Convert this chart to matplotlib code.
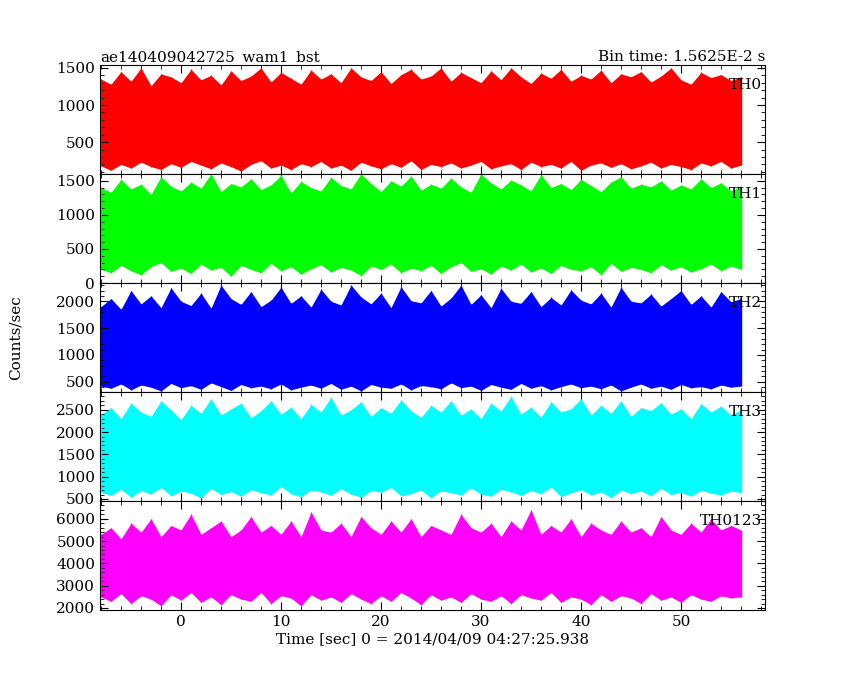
import matplotlib
matplotlib.use("Agg")
import matplotlib.pyplot as plt
from matplotlib.ticker import AutoMinorLocator
import numpy as np

plt.rcParams["font.family"] = ["DejaVu Serif"]
plt.rcParams["font.size"] = 11

# sample times (sec), one per second
time_s = list(range(-8, 57))

# per-second min / max envelopes of the light curves (counts/sec)
th0_lo = [180, 120, 200, 150, 230, 170, 130, 210, 160, 240, 190, 140, 220, 170, 110, 200, 250, 150, 190, 130,
          210, 170, 240, 150, 190, 120, 230, 180, 140, 210, 160, 250, 130, 200, 170, 220, 150, 190, 240, 140,
          180, 210, 130, 230, 170, 200, 150, 240, 120, 190, 220, 160, 210, 140, 180, 230, 150, 200, 170, 130,
          220, 180, 240, 150, 190]
th0_hi = [1350, 1280, 1450, 1320, 1500, 1260, 1420, 1380, 1300, 1480, 1340, 1400, 1270, 1460, 1330, 1390, 1500, 1310, 1440, 1360,
          1280, 1470, 1350, 1420, 1300, 1500, 1380, 1330, 1450, 1290, 1410, 1480, 1350, 1390, 1500, 1320, 1440, 1370, 1300, 1460,
          1340, 1500, 1380, 1290, 1430, 1360, 1480, 1320, 1400, 1350, 1470, 1300, 1420, 1380, 1450, 1310, 1390, 1500, 1340, 1280,
          1440, 1370, 1410, 1330, 1380]
th1_lo = [200, 150, 260, 180, 120, 240, 300, 170, 220, 140, 280, 190, 230, 100, 260, 200, 150, 290, 180, 240,
          130, 210, 270, 160, 230, 190, 110, 250, 200, 280, 150, 220, 180, 260, 140, 240, 300, 170, 210, 130,
          250, 190, 280, 160, 220, 140, 260, 200, 180, 240, 120, 290, 170, 230, 200, 150, 270, 190, 240, 160,
          210, 280, 180, 250, 200]
th1_hi = [1400, 1330, 1520, 1380, 1450, 1300, 1560, 1420, 1350, 1480, 1390, 1600, 1340, 1460, 1410, 1530, 1370, 1440, 1580, 1320,
          1490, 1400, 1350, 1550, 1430, 1380, 1600, 1460, 1340, 1500, 1420, 1570, 1360, 1450, 1390, 1540, 1410, 1330, 1600, 1470,
          1380, 1510, 1440, 1350, 1590, 1400, 1460, 1370, 1520, 1430, 1340, 1480, 1560, 1390, 1450, 1410, 1500, 1360, 1440, 1380,
          1530, 1400, 1470, 1350, 1420]
th2_lo = [420, 380, 460, 350, 440, 400, 330, 470, 390, 430, 360, 480, 410, 340, 450, 390, 420, 370, 460, 350,
          400, 440, 380, 470, 360, 420, 330, 450, 400, 380, 460, 350, 430, 410, 370, 480, 390, 420, 340, 450,
          400, 360, 470, 380, 430, 350, 410, 460, 390, 420, 370, 440, 330, 400, 460, 380, 420, 360, 450, 390,
          410, 370, 440, 400, 420]
th2_hi = [1900, 2050, 1850, 2200, 1950, 2100, 1880, 2250, 2000, 1920, 2150, 1870, 2300, 2050, 1940, 2180, 1900, 2020, 2260, 1960,
          2100, 1890, 2220, 2000, 1930, 2300, 2080, 1950, 2150, 1880, 2270, 2010, 1970, 2200, 1910, 2060, 2300, 1940, 2120, 1880,
          2240, 2000, 1960, 2180, 1900, 2070, 1930, 2210, 2020, 1950, 2150, 1890, 2260, 2000, 1970, 2130, 1910, 2050, 2200, 1940,
          2100, 1890, 2180, 1990, 2050]
th3_lo = [650, 580, 720, 540, 690, 610, 760, 570, 680, 630, 520, 740, 600, 670, 560, 710, 640, 590, 780, 620,
          550, 700, 660, 580, 730, 610, 540, 690, 650, 760, 570, 620, 700, 530, 680, 640, 590, 750, 610, 560,
          720, 660, 580, 690, 620, 770, 550, 640, 710, 590, 660, 530, 700, 620, 680, 570, 740, 600, 650, 560,
          700, 630, 590, 680, 640]
th3_hi = [2400, 2550, 2300, 2650, 2450, 2350, 2700, 2500, 2280, 2600, 2420, 2750, 2380, 2520, 2650, 2320, 2480, 2700, 2400, 2560,
          2300, 2620, 2450, 2780, 2380, 2500, 2680, 2350, 2550, 2420, 2720, 2480, 2330, 2600, 2450, 2700, 2380, 2520, 2300, 2650,
          2470, 2800, 2400, 2560, 2330, 2680, 2450, 2520, 2750, 2380, 2600, 2420, 2700, 2350, 2550, 2480, 2660, 2400, 2520, 2300,
          2640, 2450, 2580, 2380, 2500]
th4_lo = [2500, 2300, 2650, 2200, 2550, 2400, 2100, 2600, 2350, 2700, 2250, 2500, 2150, 2600, 2400, 2300, 2700, 2200, 2550, 2450,
          2100, 2600, 2350, 2500, 2250, 2650, 2400, 2200, 2550, 2300, 2700, 2450, 2150, 2600, 2350, 2500, 2250, 2650, 2400, 2300,
          2550, 2200, 2600, 2450, 2350, 2700, 2250, 2500, 2400, 2150, 2600, 2300, 2550, 2450, 2200, 2650, 2350, 2500, 2250, 2600,
          2400, 2300, 2550, 2450, 2500]
th4_hi = [5300, 5600, 5100, 5800, 5400, 6000, 5200, 5700, 5500, 6200, 5300, 5600, 5900, 5200, 5500, 6100, 5400, 5700, 5300, 5900,
          5200, 6300, 5500, 5400, 5800, 5200, 6100, 5600, 5300, 5900, 5400, 6000, 5200, 5700, 5500, 5300, 6200, 5600, 5400, 5800,
          5200, 5900, 5500, 6400, 5300, 5700, 5400, 6000, 5200, 5800, 5500, 5300, 5900, 5400, 5600, 5200, 6100, 5500, 5300, 5800,
          5400, 6000, 5500, 5700, 5500]

panels = [
    ("TH0", th0_lo, th0_hi, "#ff0000", (70, 1540), [500, 1000, 1500]),
    ("TH1", th1_lo, th1_hi, "#00ff00", (0, 1600), [0, 500, 1000, 1500]),
    ("TH2", th2_lo, th2_hi, "#0000ff", (310, 2340), [500, 1000, 1500, 2000]),
    ("TH3", th3_lo, th3_hi, "#00ffff", (455, 2900), [500, 1000, 1500, 2000, 2500]),
    ("TH0123", th4_lo, th4_hi, "#ff00ff", (1910, 6800), [2000, 3000, 4000, 5000, 6000]),
]

fig = plt.figure(figsize=(8.5, 6.8), dpi=100)
left, right, top, bottom = 100 / 850, 765 / 850, 1 - 65 / 680, 1 - 610 / 680
h = (top - bottom) / 5
x = np.array(time_s, dtype=float)

axes = []
for i, (name, lo, hi, col, ylim, ticks) in enumerate(panels):
    ax = fig.add_axes([left, top - (i + 1) * h, right - left, h])
    ax.fill_between(x, lo, hi, color=col, lw=0)
    ax.vlines(x, lo, hi, color=col, lw=1)
    ax.set_xlim(-8.1, 58.4)
    ax.set_ylim(*ylim)
    ax.set_yticks(ticks)
    ax.xaxis.set_minor_locator(AutoMinorLocator(5))
    ax.yaxis.set_minor_locator(AutoMinorLocator(5))
    ax.tick_params(which="both", direction="in", top=True, right=True)
    ax.tick_params(which="major", length=6)
    ax.tick_params(which="minor", length=3)
    ax.text(0.995, 0.88, name, transform=ax.transAxes, ha="right", va="top")
    if i < 4:
        ax.tick_params(labelbottom=False)
    axes.append(ax)

axes[0].set_title("ae140409042725_wam1_bst", loc="left", fontsize=11, pad=3)
axes[0].set_title("Bin time: 1.5625E-2 s", loc="right", fontsize=11, pad=3)
axes[-1].set_xlabel("Time [sec] 0 = 2014/04/09 04:27:25.938", labelpad=2)
fig.text(0.018, (top + bottom) / 2, "Counts/sec", rotation=90, va="center", ha="center")

fig.savefig("out.png", dpi=100)
